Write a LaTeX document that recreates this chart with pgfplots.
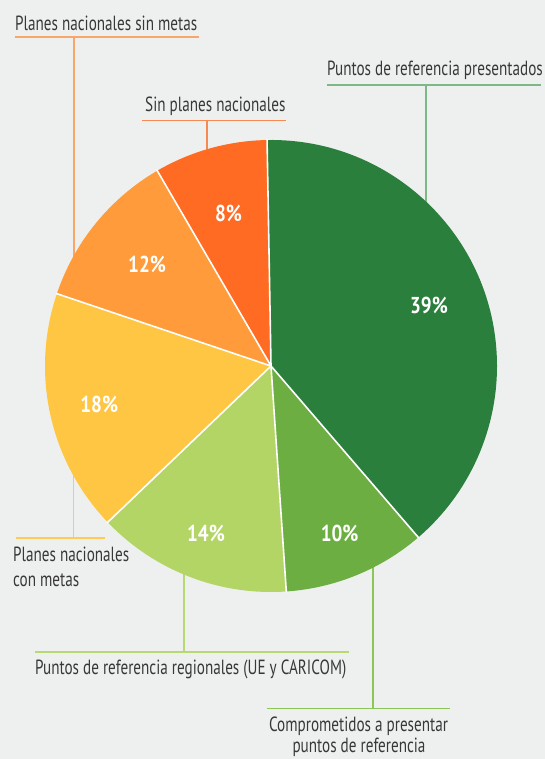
\documentclass[border=0pt]{standalone}
\usepackage{pgfplots}
\pgfplotsset{compat=1.18}
\usepackage{pgfplotstable}
\usepackage{fontspec}
\setmainfont{PT Sans}[FakeStretch=0.74]
\newfontfamily\pctfont{PT Sans}[FakeStretch=0.83]
\definecolor{bg}{HTML}{EEF0EF}
\definecolor{cA}{HTML}{2A7F3C}
\definecolor{cB}{HTML}{6DAE43}
\definecolor{cC}{HTML}{B2D566}
\definecolor{cD}{HTML}{FFC644}
\definecolor{cE}{HTML}{FF9B3B}
\definecolor{cF}{HTML}{FF6B22}
\definecolor{lA}{HTML}{7DB886}
\definecolor{lB}{HTML}{8CC65A}
\definecolor{lC}{HTML}{B7DA70}
\definecolor{lD}{HTML}{FFCB55}
\definecolor{lE}{HTML}{F9A66B}
\definecolor{lF}{HTML}{F78A50}
\definecolor{txt}{HTML}{383838}
\pgfplotstableread{
value
38.9
10.2
13.9
17.3
11.4
8.1
}\piedata
\begin{document}
\begin{tikzpicture}
\pgfplotstablegetelem{0}{value}\of\piedata\let\vA\pgfplotsretval
\pgfplotstablegetelem{1}{value}\of\piedata\let\vB\pgfplotsretval
\pgfplotstablegetelem{2}{value}\of\piedata\let\vC\pgfplotsretval
\pgfplotstablegetelem{3}{value}\of\piedata\let\vD\pgfplotsretval
\pgfplotstablegetelem{4}{value}\of\piedata\let\vE\pgfplotsretval
\pgfplotstablegetelem{5}{value}\of\piedata\let\vF\pgfplotsretval
\pgfmathsetmacro\tot{\vA+\vB+\vC+\vD+\vE+\vF}
\pgfmathsetmacro\aA{91}
\pgfmathsetmacro\aB{\aA-360*\vA/\tot}
\pgfmathsetmacro\aC{\aB-360*\vB/\tot}
\pgfmathsetmacro\aD{\aC-360*\vC/\tot}
\pgfmathsetmacro\aE{\aD-360*\vD/\tot}
\pgfmathsetmacro\aF{\aE-360*\vE/\tot}
\pgfmathsetmacro\aG{\aF-360*\vF/\tot}
\pgfmathsetmacro\mA{(\aA+\aB)/2}
\pgfmathsetmacro\mB{(\aB+\aC)/2}
\pgfmathsetmacro\mC{(\aC+\aD)/2}
\pgfmathsetmacro\mD{(\aD+\aE)/2}
\pgfmathsetmacro\mE{(\aE+\aF)/2}
\pgfmathsetmacro\mF{(\aF+\aG)/2}
\begin{axis}[
  scale only axis, width=545pt, height=759pt,
  xmin=0, xmax=545, ymin=0, ymax=759,
  hide axis, clip=false,
]
\fill[bg] (rel axis cs:0,0) rectangle (rel axis cs:1,1);
% leader lines
\begin{scope}[line width=1.6pt]
\draw[lE] (axis cs:15,722) -- (axis cs:199,722);
\draw[lE] (axis cs:74,722) -- (axis cs:74,450);
\draw[lF] (axis cs:142,638.5) -- (axis cs:286,638.5);
\draw[lF] (axis cs:207,638.5) -- (axis cs:207,560);
\draw[lA] (axis cs:327,674) -- (axis cs:541,674);
\draw[lA] (axis cs:426,674) -- (axis cs:426,500);
\draw[lD] (axis cs:16,221) -- (axis cs:105,221);
\draw[lD] (axis cs:73.5,221) -- (axis cs:73.5,330);
\draw[lC] (axis cs:35,107) -- (axis cs:349,107);
\draw[lC] (axis cs:184,107) -- (axis cs:184,250);
\draw[lB] (axis cs:267,50.5) -- (axis cs:450,50.5);
\draw[lB] (axis cs:373,50.5) -- (axis cs:373,250);
\end{scope}
% pie slices
\fill[cA] (axis cs:271,393) -- ++(\aA:226pt) arc[start angle=\aA, end angle=\aB, radius=226pt] -- cycle;
\fill[cB] (axis cs:271,393) -- ++(\aB:226pt) arc[start angle=\aB, end angle=\aC, radius=226pt] -- cycle;
\fill[cC] (axis cs:271,393) -- ++(\aC:226pt) arc[start angle=\aC, end angle=\aD, radius=226pt] -- cycle;
\fill[cD] (axis cs:271,393) -- ++(\aD:226pt) arc[start angle=\aD, end angle=\aE, radius=226pt] -- cycle;
\fill[cE] (axis cs:271,393) -- ++(\aE:226pt) arc[start angle=\aE, end angle=\aF, radius=226pt] -- cycle;
\fill[cF] (axis cs:271,393) -- ++(\aF:226pt) arc[start angle=\aF, end angle=\aG, radius=226pt] -- cycle;
\begin{scope}[white, line width=1.6pt]
\draw (axis cs:271,393) -- ++(\aA:227pt);
\draw (axis cs:271,393) -- ++(\aB:227pt);
\draw (axis cs:271,393) -- ++(\aC:227pt);
\draw (axis cs:271,393) -- ++(\aD:227pt);
\draw (axis cs:271,393) -- ++(\aE:227pt);
\draw (axis cs:271,393) -- ++(\aF:227pt);
\end{scope}
% percentage labels
\begin{scope}[every node/.style={white, font=\pctfont\bfseries\fontsize{23}{23}\selectfont, inner sep=0pt}]
\path (axis cs:271,393) ++(\mA:169pt) node {39\%};
\path (axis cs:271,393) ++(\mB:181pt) node {10\%};
\path (axis cs:271,393) ++(\mC:180pt) node {14\%};
\path (axis cs:271,393) ++(\mD:176pt) node {18\%};
\path (axis cs:271,393) ++(\mE:160pt) node {12\%};
\path (axis cs:271,393) ++(\mF:158pt) node {8\%};
\end{scope}
% category labels
\begin{scope}[every node/.style={txt, font=\fontsize{20.5}{20.5}\selectfont, inner sep=0pt}]
\node[anchor=base west] at (axis cs:15,728.5) {Planes nacionales sin metas};
\node[anchor=base west] at (axis cs:145,647) {Sin planes nacionales};
\node[anchor=base west] at (axis cs:327,683) {Puntos de referencia presentados};
\node[anchor=base west] at (axis cs:13,197) {Planes nacionales};
\node[anchor=base west] at (axis cs:13,172) {con metas};
\node[anchor=base west] at (axis cs:35,84) {Puntos de referencia regionales (UE y CARICOM)};
\node[anchor=base] at (axis cs:358.5,27.3) {Comprometidos a presentar};
\node[anchor=base] at (axis cs:359,6.3) {puntos de referencia};
\end{scope}
\end{axis}
\end{tikzpicture}
\end{document}
